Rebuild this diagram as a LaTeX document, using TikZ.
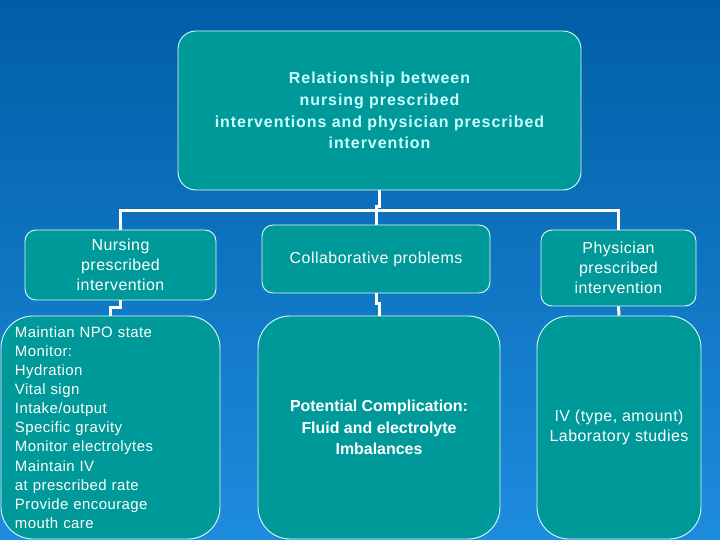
\documentclass[tikz,border=0pt]{standalone}
\usepackage{fontspec}
\setmainfont{Liberation Sans}
\newfontfamily\spacedfont[LetterSpace=3]{Liberation Sans}
\newfontfamily\titlefont[LetterSpace=6]{Liberation Sans}
\definecolor{bgtop}{RGB}{0,94,166}
\definecolor{bgmid}{RGB}{4,104,182}
\definecolor{bgbot}{RGB}{30,140,222}
\definecolor{tealfill}{RGB}{0,153,153}
\definecolor{boxline}{RGB}{220,250,250}
\definecolor{titlecol}{RGB}{204,255,255}
\begin{document}
\begin{tikzpicture}[x=1bp,y=-1bp,
  nbox/.style={draw=boxline, line width=0.9bp, fill=tealfill, rounded corners=#1,
    inner sep=0pt, align=center, text=white},
  conn/.style={draw=white, line width=3bp},
  midfont/.style={font=\spacedfont\fontsize{16}{20}\selectfont}]
\shade[top color=bgtop, middle color=bgmid, bottom color=bgbot] (0,0) rectangle (720,540);
\useasboundingbox (0,0) rectangle (720,540);

\node[nbox=18bp, minimum width=403bp, minimum height=159bp, text=titlecol,
  font=\titlefont\bfseries\fontsize{16}{21.7}\selectfont] (top) at (379.5,110.5)
  {Relationship between\\nursing prescribed\\interventions and physician prescribed\\intervention};

\node[nbox=11bp, minimum width=191bp, minimum height=70bp, midfont] (nurse) at (120.5,265)
  {Nursing\\prescribed\\intervention};
\node[nbox=11bp, minimum width=228bp, minimum height=68bp, midfont] (collab) at (376,259)
  {Collaborative problems};
\node[nbox=11bp, minimum width=155bp, minimum height=76bp, midfont] (phys) at (618.5,268)
  {Physician\\prescribed\\intervention};

\node[nbox=32bp, minimum width=219bp, minimum height=223bp, text width=191bp, align=left,
  font=\spacedfont\fontsize{15}{19.2}\selectfont] (nlist) at (110.5,427.5)
  {Maintian NPO state\\Monitor:\\Hydration\\Vital sign\\Intake/output\\Specific gravity\\Monitor electrolytes\\Maintain IV\\at prescribed rate\\Provide encourage\\mouth care};
\node[nbox=32bp, minimum width=242bp, minimum height=223bp,
  font=\bfseries\fontsize{16}{21.5}\selectfont] (pc) at (379,427.5)
  {Potential Complication:\\Fluid and electrolyte\\Imbalances};
\node[nbox=32bp, minimum width=164bp, minimum height=223bp, midfont] (iv) at (619,427.5)
  {IV (type, amount)\\Laboratory studies};

\coordinate (bar) at (376,211);
\draw[conn] (top.south) -- ++(0,16) -| (bar);
\draw[conn] (nurse.north) |- (bar) -| (phys.north);
\draw[conn] (bar) -- (collab.north);
\draw[conn] (nurse.south) -- ++(0,7) -| (nlist.north);
\draw[conn] (collab.south) -- ++(0,10) -| (pc.north);
\draw[conn] (phys.south) -- (iv.north);
\end{tikzpicture}
\end{document}
